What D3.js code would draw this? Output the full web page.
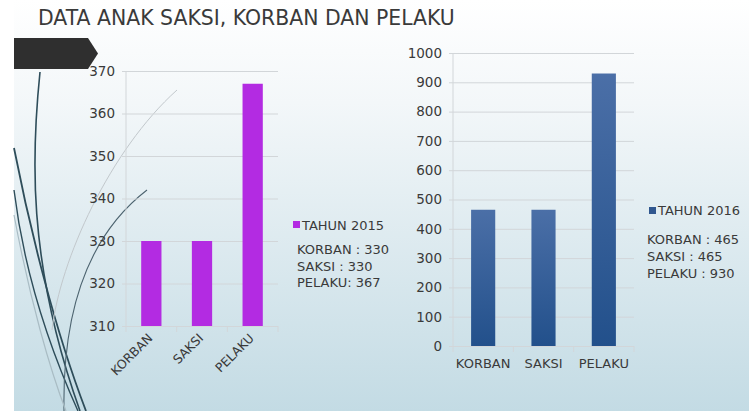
<!DOCTYPE html>
<html>
<head>
<meta charset="utf-8">
<script src="https://cdn.jsdelivr.net/npm/d3@7"></script>
<style>
  html, body { margin: 0; padding: 0; background: #fff; }
  svg { display: block; }
  text { font-family: "DejaVu Sans", "Noto Sans", sans-serif; fill: #3a3a3a; }
</style>
</head>
<body>
<script>
// ---- data ----
const title = "DATA ANAK SAKSI, KORBAN DAN PELAKU";
const categories = ["KORBAN", "SAKSI", "PELAKU"];
const values2015 = [330, 330, 367];
const values2016 = [465, 465, 930];
const ticks2015 = [310, 320, 330, 340, 350, 360, 370];
const ticks2016 = [0, 100, 200, 300, 400, 500, 600, 700, 800, 900, 1000];
const legend2015 = "TAHUN 2015";
const legend2016 = "TAHUN 2016";
const notes2015 = ["KORBAN : 330", "SAKSI : 330", "PELAKU: 367"];
const notes2016 = ["KORBAN : 465", "SAKSI : 465", "PELAKU : 930"];

const FONT = "'DejaVu Sans', 'Noto Sans', sans-serif";
const W = 749, H = 411;
const svg = d3.select("body").append("svg").attr("width", W).attr("height", H);
const defs = svg.append("defs");

// fit a text element's font size so it spans the target width
function fitWidth(sel, target) {
  const node = sel.node();
  const fs = parseFloat(sel.attr("font-size"));
  const len = node.getComputedTextLength();
  if (len > 0) sel.attr("font-size", (fs * target / len).toFixed(2));
  return sel;
}

const bg = defs.append("linearGradient").attr("id", "bg").attr("x1", 0).attr("y1", 0).attr("x2", 0).attr("y2", 1);
bg.append("stop").attr("offset", "0%").attr("stop-color", "#ffffff");
bg.append("stop").attr("offset", "25%").attr("stop-color", "#f3f7f9");
bg.append("stop").attr("offset", "100%").attr("stop-color", "#c3dbe4");

const bar16 = defs.append("linearGradient").attr("id", "bar16").attr("x1", 0).attr("y1", 0).attr("x2", 0).attr("y2", 1);
bar16.append("stop").attr("offset", "0%").attr("stop-color", "#4b6fa7");
bar16.append("stop").attr("offset", "100%").attr("stop-color", "#22508b");

svg.append("rect").attr("width", W).attr("height", H).attr("fill", "url(#bg)");
svg.append("rect").attr("width", 14).attr("height", H).attr("fill", "#ffffff");

// decorative curves
const deco = svg.append("g").attr("fill", "none");
deco.append("path").attr("d", "M40,72 C32,150 26,260 80,411").attr("stroke", "#2e4d5a").attr("stroke-width", 1.6);
deco.append("path").attr("d", "M14,148 C30,230 55,330 86,411").attr("stroke", "#2e4d5a").attr("stroke-width", 1.8);
deco.append("path").attr("d", "M14,190 C25,280 55,360 78,411").attr("stroke", "#2e4d5a").attr("stroke-width", 1.4);
deco.append("path").attr("d", "M147,190 C95,230 62,300 64,411").attr("stroke", "#4d6470").attr("stroke-width", 1.1);
deco.append("path").attr("d", "M177,90 C110,150 60,260 52,330").attr("stroke", "#c2c8cc").attr("stroke-width", 1);
deco.append("path").attr("d", "M14,215 C30,300 50,370 66,411").attr("stroke", "#a9bcc4").attr("stroke-width", 1.2);

// title
fitWidth(svg.append("text").attr("x", 38).attr("y", 25).attr("font-size", 19).attr("fill", "#333").text(title), 417);

// arrow banner
svg.append("path").attr("d", "M14,38 L88,38 L98,53.5 L88,69 L14,69 Z").attr("fill", "#2f2f2f");

function drawChart(opts) {
  const { vals, ticks, domain, xr, yr, fill, labelStyle } = opts;
  const g = svg.append("g");
  const x = d3.scaleBand().domain(categories).range(xr).paddingInner(0.6).paddingOuter(0.3);
  const y = d3.scaleLinear().domain(domain).range(yr);
  const w = xr[1] - xr[0];

  const ya = g.append("g").attr("transform", `translate(${xr[0]},0)`)
    .call(d3.axisLeft(y).tickValues(ticks).tickSize(-w).tickPadding(11).tickFormat(d3.format("d")));
  ya.select(".domain").remove();
  ya.selectAll(".tick line").attr("x1", -4).attr("stroke", "#d2d6d9").attr("stroke-width", 1);
  ya.selectAll(".tick text").attr("font-size", 13.5).attr("fill", "#3a3a3a").attr("font-family", FONT);

  // vertical axis line
  g.append("line").attr("x1", xr[0]).attr("x2", xr[0]).attr("y1", yr[1]).attr("y2", yr[0])
    .attr("stroke", "#d2d6d9");
  // category boundary ticks
  const bounds = d3.range(categories.length + 1).map(i => xr[0] + i * (w / categories.length));
  g.selectAll(".bt").data(bounds).join("line")
    .attr("x1", d => d).attr("x2", d => d).attr("y1", yr[0]).attr("y2", yr[0] + 6)
    .attr("stroke", "#d2d6d9");

  g.selectAll(".bar").data(vals).join("rect")
    .attr("x", (d, i) => x(categories[i]))
    .attr("width", x.bandwidth())
    .attr("y", d => y(d))
    .attr("height", d => y(domain[0]) - y(d))
    .attr("fill", fill);

  if (labelStyle === "rot") {
    g.selectAll(".xl").data(categories).join("text")
      .attr("transform", d => `translate(${x(d) + x.bandwidth() / 2 + 2},${yr[0] + 13}) rotate(-45)`)
      .attr("text-anchor", "end").attr("font-size", 12.5).text(d => d);
  } else {
    g.selectAll(".xl").data(categories).join("text")
      .attr("x", d => x(d) + x.bandwidth() / 2).attr("y", yr[0] + 22)
      .attr("text-anchor", "middle").attr("font-size", 13).text(d => d);
  }
  return g;
}

drawChart({ vals: values2015, ticks: ticks2015, domain: [310, 370], xr: [126, 278], yr: [326, 71], fill: "#b32be2", labelStyle: "rot" });
drawChart({ vals: values2016, ticks: ticks2016, domain: [0, 1000], xr: [453, 634], yr: [346, 53], fill: "url(#bar16)", labelStyle: "flat" });

// legends
svg.append("rect").attr("x", 293).attr("y", 221).attr("width", 7).attr("height", 7).attr("fill", "#b32be2");
svg.append("text").attr("x", 302).attr("y", 229.5).attr("font-size", 13).text(legend2015);
svg.selectAll(".n15").data(notes2015).join("text")
  .attr("x", 297).attr("y", (d, i) => 254 + i * 16.5).attr("font-size", 13).text(d => d);

svg.append("rect").attr("x", 649).attr("y", 207).attr("width", 7).attr("height", 7).attr("fill", "#30578f");
svg.append("text").attr("x", 658).attr("y", 215).attr("font-size", 13).text(legend2016);
svg.selectAll(".n16").data(notes2016).join("text")
  .attr("x", 647).attr("y", (d, i) => 244 + i * 16.8).attr("font-size", 13).text(d => d);
</script>
</body>
</html>
